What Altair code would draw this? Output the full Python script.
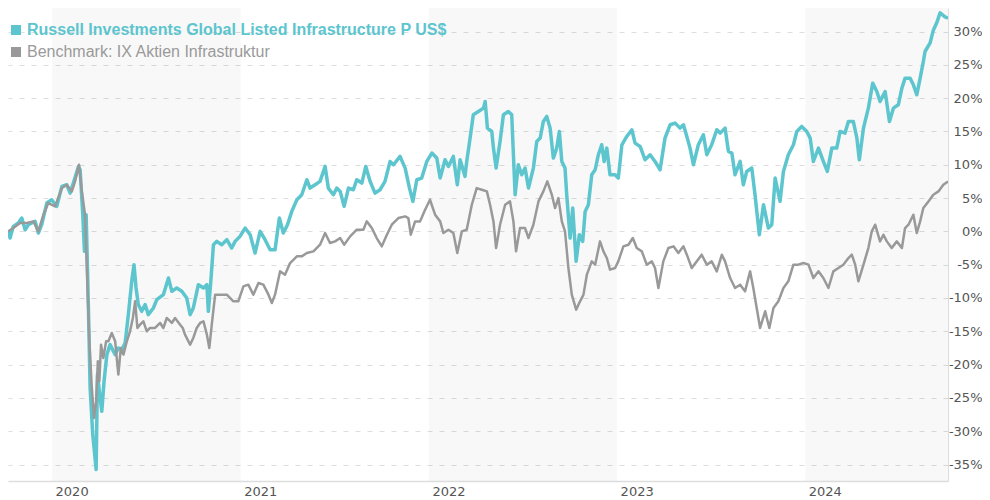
import altair as alt
import pandas as pd

SERIES = ["Russell Investments Global Listed Infrastructure P US$", "Benchmark: IX Aktien Infrastruktur"]
COLORS = ["#5cc5ce", "#999999"]

# (decimal year, cumulative return in %)
fund_points = [
    (2019.766, 0), (2019.777, -1), (2019.794, 0.75), (2019.821, 1.25), (2019.839, 2), (2019.857, 0.25),
    (2019.874, 1), (2019.892, 1.25), (2019.910, 1.5), (2019.927, -0.25), (2019.945, 1), (2019.972, 4.25),
    (2019.998, 4.75), (2020.025, 3.75), (2020.052, 6.75), (2020.078, 7), (2020.096, 5.75), (2020.113, 7.25),
    (2020.140, 9.75), (2020.149, 9.25), (2020.163, 2.5), (2020.172, -3), (2020.181, 2.5), (2020.193, -11.5),
    (2020.202, -23.5), (2020.216, -30.5), (2020.234, -35.75), (2020.241, -21.5), (2020.251, -24), (2020.264, -27),
    (2020.276, -22.5), (2020.291, -18.5), (2020.308, -17), (2020.335, -18.5), (2020.352, -17.5), (2020.370, -17.75),
    (2020.388, -16.75), (2020.405, -12.5), (2020.423, -7.5), (2020.435, -5), (2020.446, -8.5), (2020.458, -11),
    (2020.476, -12), (2020.494, -11), (2020.511, -12.5), (2020.538, -11.5), (2020.556, -10.25), (2020.591, -9.5),
    (2020.618, -7), (2020.636, -9), (2020.662, -8.5), (2020.689, -9), (2020.715, -10), (2020.733, -12.5),
    (2020.750, -11.5), (2020.777, -8), (2020.804, -8.5), (2020.822, -8), (2020.830, -12), (2020.843, -7.5),
    (2020.857, -2), (2020.875, -1.5), (2020.901, -2), (2020.928, -1.25), (2020.954, -2.5), (2020.972, -1.5),
    (2020.998, -0.75), (2021.025, 0.5), (2021.052, -0.5), (2021.078, -3.25), (2021.105, 0), (2021.131, -1.25),
    (2021.158, -2.75), (2021.184, -2.75), (2021.207, 2), (2021.228, -0.25), (2021.250, 1), (2021.273, 3),
    (2021.300, 4.75), (2021.326, 5.5), (2021.353, 7.75), (2021.370, 6.5), (2021.397, 7), (2021.423, 7.5),
    (2021.450, 9.75), (2021.467, 6.5), (2021.494, 5.5), (2021.512, 6.5), (2021.530, 6), (2021.551, 3.75),
    (2021.574, 6.5), (2021.600, 6.25), (2021.618, 7.75), (2021.645, 7.25), (2021.666, 9.75), (2021.689, 7.5),
    (2021.715, 5.75), (2021.742, 6.25), (2021.768, 7.5), (2021.795, 10.5), (2021.813, 10), (2021.848, 11.25),
    (2021.875, 9.5), (2021.898, 6.5), (2021.916, 4.5), (2021.937, 7.75), (2021.963, 8), (2021.990, 10.5),
    (2022.017, 11.75), (2022.043, 11), (2022.061, 8), (2022.087, 10.75), (2022.105, 9.75), (2022.131, 11.25),
    (2022.152, 7), (2022.167, 10.75), (2022.193, 8.25), (2022.202, 10.5), (2022.220, 14), (2022.237, 17.5),
    (2022.264, 18), (2022.291, 18.5), (2022.300, 19.5), (2022.312, 15.5), (2022.335, 15), (2022.344, 12.5),
    (2022.358, 9.5), (2022.379, 13.5), (2022.397, 17.5), (2022.423, 18), (2022.441, 17.5), (2022.459, 5.5),
    (2022.476, 10), (2022.494, 8.5), (2022.512, 9.5), (2022.530, 6.5), (2022.556, 9.5), (2022.574, 13.5),
    (2022.592, 14), (2022.609, 16.5), (2022.627, 17.25), (2022.645, 15.5), (2022.662, 11), (2022.680, 12.5),
    (2022.694, 15), (2022.707, 10.5), (2022.724, 9.5), (2022.733, 5.5), (2022.751, -1), (2022.765, 3.5),
    (2022.783, -4.5), (2022.800, -0.5), (2022.818, -1.5), (2022.831, 3), (2022.848, 4), (2022.866, 8.5),
    (2022.884, 9.25), (2022.901, 11.5), (2022.919, 13), (2022.932, 10.5), (2022.946, 12.5), (2022.963, 8.5),
    (2022.990, 8.5), (2023.007, 8), (2023.026, 13), (2023.052, 14.25), (2023.079, 15.25), (2023.096, 13.25),
    (2023.123, 12.75), (2023.149, 10.75), (2023.176, 11.5), (2023.202, 10.5), (2023.229, 9.25), (2023.255, 14),
    (2023.282, 16), (2023.309, 16.25), (2023.335, 15.5), (2023.353, 16), (2023.371, 14.25), (2023.388, 12.5),
    (2023.406, 10), (2023.432, 13), (2023.459, 14.5), (2023.477, 11.5), (2023.503, 13), (2023.530, 15.25),
    (2023.548, 14.75), (2023.574, 15.5), (2023.592, 12), (2023.610, 11.75), (2023.627, 8.5), (2023.654, 10.5),
    (2023.671, 7), (2023.689, 9), (2023.716, 9.5), (2023.733, 5.5), (2023.756, -0.5), (2023.778, 4),
    (2023.804, 0.5), (2023.822, 1), (2023.840, 8), (2023.866, 4.5), (2023.884, 9), (2023.910, 11.5),
    (2023.937, 13), (2023.955, 15), (2023.981, 15.75), (2024.008, 15), (2024.026, 14), (2024.043, 10.5),
    (2024.070, 12.5), (2024.096, 10.5), (2024.117, 9), (2024.141, 12.5), (2024.167, 12.5), (2024.185, 15),
    (2024.211, 14.75), (2024.229, 16.5), (2024.255, 16.5), (2024.274, 14), (2024.287, 10.75), (2024.309, 15.5),
    (2024.335, 18.5), (2024.358, 22.25), (2024.380, 21), (2024.397, 19.5), (2024.424, 21), (2024.447, 16.5),
    (2024.468, 18.5), (2024.494, 19), (2024.513, 21.5), (2024.530, 23), (2024.557, 23), (2024.574, 22),
    (2024.592, 20.5), (2024.610, 23), (2024.627, 25.5), (2024.636, 27), (2024.663, 28.3), (2024.680, 30.2),
    (2024.698, 31.3), (2024.716, 32.8), (2024.742, 32.2), (2024.758, 32),
]

bench_points = [
    (2019.766, 0), (2019.794, 0.5), (2019.830, 1.25), (2019.866, 1.25), (2019.901, 1.5), (2019.927, 0),
    (2019.954, 2.5), (2019.980, 4.25), (2020.016, 3.75), (2020.052, 6.5), (2020.078, 7), (2020.105, 6),
    (2020.122, 7.5), (2020.143, 10), (2020.158, 6), (2020.175, 2.5), (2020.187, -7.5), (2020.198, -16.5),
    (2020.211, -23.5), (2020.223, -28), (2020.234, -25.5), (2020.243, -19.5), (2020.251, -22.5), (2020.260, -17),
    (2020.272, -19), (2020.287, -16.5), (2020.299, -16.5), (2020.317, -15.25), (2020.335, -16.5), (2020.352, -21.5),
    (2020.365, -17.5), (2020.379, -18.5), (2020.397, -16.5), (2020.414, -15), (2020.429, -13), (2020.441, -10.5),
    (2020.453, -14.5), (2020.467, -14), (2020.485, -13.5), (2020.503, -15), (2020.520, -14.5), (2020.547, -14.5),
    (2020.574, -13.75), (2020.591, -14.5), (2020.609, -13), (2020.636, -13.75), (2020.653, -13), (2020.680, -14),
    (2020.694, -14.5), (2020.706, -15.5), (2020.733, -17), (2020.750, -16), (2020.768, -14.5), (2020.786, -13.75),
    (2020.804, -13.5), (2020.822, -15.5), (2020.835, -17.5), (2020.848, -14), (2020.866, -9.5), (2020.892, -9.5),
    (2020.928, -9.5), (2020.963, -10.5), (2020.989, -10.5), (2021.016, -8.25), (2021.042, -8), (2021.069, -9.5),
    (2021.096, -7.75), (2021.122, -8), (2021.149, -9.5), (2021.167, -10.75), (2021.184, -9.5), (2021.211, -6),
    (2021.237, -6.5), (2021.264, -4.75), (2021.300, -3.75), (2021.326, -3.75), (2021.353, -3.25), (2021.388, -3),
    (2021.423, -2), (2021.450, -0.25), (2021.476, -1.75), (2021.503, -1.5), (2021.530, -1), (2021.551, -2),
    (2021.583, -0.75), (2021.618, 0.25), (2021.653, 0.25), (2021.671, 1.5), (2021.698, 0.5), (2021.724, -1),
    (2021.751, -2.25), (2021.778, -0.5), (2021.804, 1), (2021.839, 2), (2021.875, 2.25), (2021.892, 2),
    (2021.905, -0.5), (2021.928, 1.5), (2021.954, 1.5), (2021.981, 3.25), (2022.007, 4.75), (2022.034, 2.5),
    (2022.061, 1.5), (2022.078, -0.25), (2022.105, 0.25), (2022.131, -0.25), (2022.152, -3.25), (2022.176, 0),
    (2022.202, 0.25), (2022.229, 4), (2022.255, 6.5), (2022.282, 6.25), (2022.309, 6), (2022.326, 4),
    (2022.344, 1.5), (2022.358, -2.5), (2022.379, 1), (2022.406, 4), (2022.432, 4.5), (2022.450, 1.5),
    (2022.464, -3), (2022.485, 0.5), (2022.512, 0.5), (2022.530, -1), (2022.556, 1), (2022.583, 4.5),
    (2022.609, 6), (2022.630, 7.5), (2022.654, 5.5), (2022.671, 3.5), (2022.689, 5), (2022.707, 1.5),
    (2022.724, 0), (2022.742, -5.5), (2022.760, -9.5), (2022.783, -11.75), (2022.804, -10.5), (2022.822, -9.5),
    (2022.840, -6.5), (2022.866, -4.5), (2022.884, -5), (2022.910, -1.5), (2022.928, -3), (2022.946, -4),
    (2022.963, -5.75), (2022.990, -5.5), (2023.007, -4.5), (2023.034, -2.25), (2023.061, -2), (2023.084, -1),
    (2023.105, -2.5), (2023.132, -3), (2023.158, -5), (2023.185, -4.5), (2023.202, -5.5), (2023.220, -8.5),
    (2023.246, -4.5), (2023.273, -2.5), (2023.300, -2.25), (2023.326, -3.25), (2023.353, -2.25), (2023.371, -3.5),
    (2023.397, -5.5), (2023.424, -4.5), (2023.450, -3.5), (2023.477, -5), (2023.503, -4.5), (2023.530, -6),
    (2023.557, -3.5), (2023.574, -4.5), (2023.601, -7), (2023.627, -8.5), (2023.654, -8), (2023.680, -9),
    (2023.707, -6), (2023.724, -8.5), (2023.742, -11.5), (2023.760, -14.5), (2023.787, -12), (2023.809, -14.5),
    (2023.831, -11.5), (2023.857, -10.5), (2023.884, -8.5), (2023.910, -7.5), (2023.937, -5), (2023.963, -5),
    (2023.990, -4.75), (2024.017, -5), (2024.043, -7), (2024.070, -6), (2024.096, -7), (2024.123, -8.5),
    (2024.149, -6), (2024.176, -5.5), (2024.202, -5), (2024.229, -4), (2024.247, -3.5), (2024.265, -5),
    (2024.282, -7.5), (2024.309, -5), (2024.335, -2.5), (2024.353, 0), (2024.371, 1), (2024.397, -1.5),
    (2024.415, -0.5), (2024.433, -1.5), (2024.459, -2.5), (2024.486, -1.5), (2024.513, -2.5), (2024.530, 0.5),
    (2024.548, 1), (2024.574, 2.5), (2024.592, -0.25), (2024.610, 1.5), (2024.627, 3.5), (2024.654, 4.5),
    (2024.680, 5.5), (2024.707, 6), (2024.733, 7), (2024.758, 7.5),
]

band_starts = ["2020-01-01", "2022-01-01", "2024-01-01"]
band_ends = ["2021-01-01", "2023-01-01", "2025-01-01"]
year_ticks = [2020, 2021, 2022, 2023, 2024]
y_ticks = [-35, -30, -25, -20, -15, -10, -5, 0, 5, 10, 15, 20, 25, 30]
x_span_years = [2019.766, 2024.758]
y_span = [-37.47, 33.53]


def to_ts(t):
    return pd.Timestamp("2020-01-01") + pd.Timedelta(days=(t - 2020) * 365.25)


def to_dt(t):
    ts = to_ts(t)
    return alt.DateTime(year=ts.year, month=ts.month, date=ts.day, hours=ts.hour)


rows = []
for name, pts in zip(SERIES, [fund_points, bench_points]):
    for t, v in pts:
        rows.append({"date": to_ts(t), "value": v, "series": name})
df = pd.DataFrame(rows)
bands = pd.DataFrame({"start": band_starts, "end": band_ends})

x_scale = alt.Scale(domain=[to_dt(x_span_years[0]), to_dt(x_span_years[1])], nice=False)
y_scale = alt.Scale(domain=y_span, nice=False, zero=False)

x_axis = alt.Axis(
    orient="bottom", values=[alt.DateTime(year=y, month=1, date=1) for y in year_ticks],
    format="%Y", labelAlign="left", labelOffset=3, labelFlush=False, grid=False, ticks=False,
    tickSize=0, labelPadding=4, domainColor="#dddddd", domainWidth=1.5, labelFont="DejaVu Sans",
    labelFontSize=13, labelColor="#555555", title=None,
)
y_axis = alt.Axis(
    orient="right", values=y_ticks, labelExpr="datum.value + '%'", grid=True, gridColor="#dedede",
    gridDash=[5, 7], gridWidth=1, domain=True, domainColor="#dddddd", ticks=False, tickSize=0,
    labelAlign="right", labelPadding=34, labelFont="DejaVu Sans", labelFontSize=13,
    labelColor="#555555", title=None, labelFlush=False,
)

band_layer = alt.Chart(bands).mark_rect(color="#000000", opacity=0.028, clip=True).encode(
    x=alt.X("start:T", scale=x_scale, axis=x_axis),
    x2="end:T",
)

fund_line = alt.Chart(df).transform_filter(alt.datum.series == SERIES[0]).mark_line(
    color=COLORS[0], strokeWidth=3.5, strokeJoin="round", clip=True
).encode(
    x=alt.X("date:T", scale=x_scale, axis=x_axis),
    y=alt.Y("value:Q", scale=y_scale, axis=y_axis),
)

bench_line = alt.Chart(df).transform_filter(alt.datum.series == SERIES[1]).mark_line(
    color=COLORS[1], strokeWidth=2.5, strokeJoin="round", clip=True
).encode(
    x=alt.X("date:T", scale=x_scale, axis=x_axis),
    y=alt.Y("value:Q", scale=y_scale, axis=y_axis),
)

label_color_expr = f"datum.value == '{SERIES[0]}' ? '{COLORS[0]}' : '#9a9a9a'"
label_weight_expr = f"datum.value == '{SERIES[0]}' ? 'bold' : 'normal'"

legend_layer = alt.Chart(df).transform_filter("false").mark_point(
    shape="square", filled=True, opacity=1
).encode(
    x=alt.X("date:T", scale=x_scale, axis=x_axis),
    y=alt.Y("value:Q", scale=y_scale, axis=y_axis),
    fill=alt.Fill(
        "series:N",
        scale=alt.Scale(domain=SERIES, range=COLORS),
        legend=alt.Legend(
            title=None, orient="none", legendX=0, legendY=14, direction="vertical",
            symbolType="square", symbolSize=100, symbolStrokeWidth=0, symbolOpacity=1,
            labelFont="Liberation Sans", labelFontSize=16,
            labelColor={"expr": label_color_expr},
            labelFontWeight={"expr": label_weight_expr},
            labelOffset=3, rowPadding=6, padding=0, labelLimit=0,
        ),
    ),
)

chart = alt.layer(band_layer, fund_line, bench_line, legend_layer).properties(
    width=940,
    height=473,
    autosize=alt.AutoSizeParams(type="none"),
    padding={"left": 0, "top": 0, "right": 34, "bottom": 19},
    background="#ffffff",
).configure_view(strokeWidth=0)

chart.save("out.html", embed_options={"renderer": "svg", "actions": False})
